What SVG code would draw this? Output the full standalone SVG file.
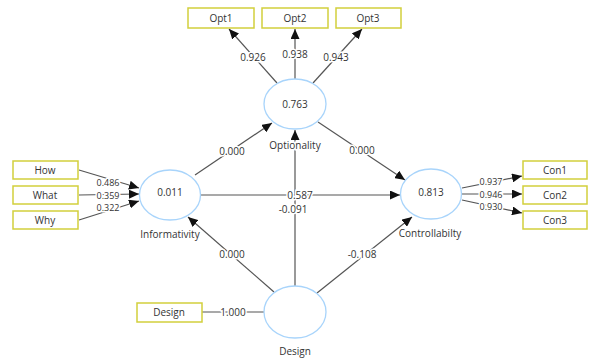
<svg xmlns="http://www.w3.org/2000/svg" width="589" height="358" viewBox="0 0 589 358">
<style>
.box{fill:#fff;stroke:#d2cf3c;stroke-width:1.5}
.lv{fill:#fff;stroke:#a8d4fb;stroke-width:1.3}
.t{font-family:"Open Sans","Noto Sans",sans-serif;font-size:10px;fill:#333;text-anchor:middle;dominant-baseline:central}
.lb{font-family:"Open Sans","Noto Sans",sans-serif;font-size:10px;fill:#333;text-anchor:middle;dominant-baseline:central;stroke:#fff;stroke-width:3;paint-order:stroke}
.sm{font-size:9px}
.c line{stroke:#555;stroke-width:1.2}
.a{marker-end:url(#ah)}
</style>
<defs>
<marker id="ah" markerUnits="userSpaceOnUse" markerWidth="10" markerHeight="9" refX="10" refY="4.5" orient="auto">
<path d="M0,0 L10,4.5 L0,9 z" fill="#111"/>
</marker>
</defs>
<g id="connectors" class="c">
<line class="a" x1="277" y1="83" x2="229" y2="29"/>
<line class="a" x1="295" y1="79" x2="295" y2="29"/>
<line class="a" x1="313" y1="83" x2="362" y2="29"/>
<line class="a" x1="79" y1="170" x2="139" y2="188"/>
<line class="a" x1="79" y1="195" x2="139" y2="194"/>
<line class="a" x1="79" y1="220" x2="139" y2="201"/>
<line class="a" x1="462" y1="188" x2="522" y2="176"/>
<line class="a" x1="462" y1="194" x2="522" y2="194"/>
<line class="a" x1="462" y1="200" x2="522" y2="213"/>
<line class="a" x1="195" y1="175" x2="272" y2="123"/>
<line class="a" x1="318" y1="122" x2="405" y2="180"/>
<line class="a" x1="201" y1="195" x2="400" y2="195"/>
<line class="a" x1="295" y1="286" x2="295" y2="130"/>
<line class="a" x1="274" y1="292" x2="188" y2="217"/>
<line class="a" x1="317" y1="293" x2="412" y2="217"/>
<line x1="202" y1="312" x2="264" y2="312"/>
<text class="lb" x="253" y="57">0.926</text>
<text class="lb" x="295" y="54">0.938</text>
<text class="lb" x="336" y="57">0.943</text>
<text class="lb sm" x="108" y="182.5">0.486</text>
<text class="lb sm" x="108" y="195">0.359</text>
<text class="lb sm" x="108" y="207.5">0.322</text>
<text class="lb sm" x="491" y="181.5">0.937</text>
<text class="lb sm" x="491" y="194">0.946</text>
<text class="lb sm" x="491" y="206.5">0.930</text>
<text class="lb" x="232" y="151">0.000</text>
<text class="lb" x="362" y="150">0.000</text>
<text class="lb" x="300" y="195">0.587</text>
<text class="lb" x="293" y="209">-0.091</text>
<text class="lb" x="232" y="254">0.000</text>
<text class="lb" x="362" y="254">-0.108</text>
<text class="lb" x="233" y="312">1.000</text>
</g>
<g id="opt1"><rect class="box" x="188" y="8" width="66" height="20"/><text class="t" x="221" y="18">Opt1</text></g>
<g id="opt2"><rect class="box" x="262" y="8" width="66" height="20"/><text class="t" x="295" y="18">Opt2</text></g>
<g id="opt3"><rect class="box" x="336" y="8" width="65" height="20"/><text class="t" x="368" y="18">Opt3</text></g>
<g id="how"><rect class="box" x="13" y="161" width="65" height="18"/><text class="t" x="45" y="170">How</text></g>
<g id="what"><rect class="box" x="13" y="186" width="65" height="18"/><text class="t" x="45" y="195">What</text></g>
<g id="why"><rect class="box" x="13" y="211" width="65" height="18"/><text class="t" x="45" y="220">Why</text></g>
<g id="con1"><rect class="box" x="523" y="161" width="64" height="18"/><text class="t" x="555" y="170">Con1</text></g>
<g id="con2"><rect class="box" x="523" y="186" width="64" height="18"/><text class="t" x="555" y="195">Con2</text></g>
<g id="con3"><rect class="box" x="523" y="211" width="64" height="18"/><text class="t" x="555" y="220">Con3</text></g>
<g id="design-ind"><rect class="box" x="137" y="303" width="65" height="19"/><text class="t" x="169" y="312">Design</text></g>
<g id="optionality"><ellipse class="lv" cx="295" cy="104" rx="31" ry="25"/><text class="t" x="295" y="104">0.763</text><text class="lb" x="295" y="145">Optionality</text></g>
<g id="informativity"><ellipse class="lv" cx="170" cy="195" rx="30.5" ry="25"/><text class="t" x="170" y="192">0.011</text><text class="t" x="170" y="234">Informativity</text></g>
<g id="controllability"><ellipse class="lv" cx="431" cy="194" rx="30.5" ry="25"/><text class="t" x="431" y="192">0.813</text><text class="t" x="430" y="233">Controllabilty</text></g>
<g id="design"><ellipse class="lv" cx="295" cy="312" rx="31" ry="26"/><text class="t" x="295" y="351">Design</text></g>
</svg>
